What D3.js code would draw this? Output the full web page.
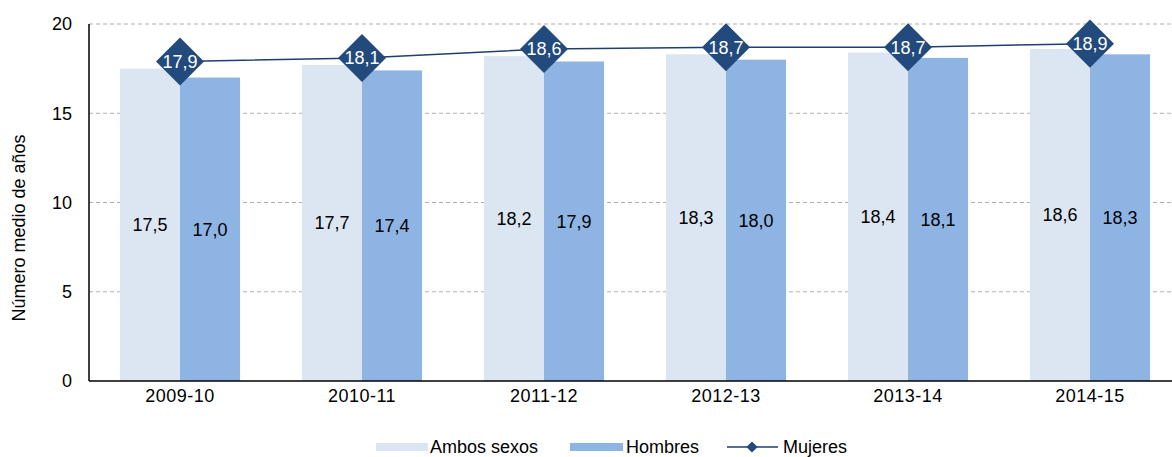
<!DOCTYPE html>
<html>
<head>
<meta charset="utf-8">
<script src="https://cdn.jsdelivr.net/npm/d3@7"></script>
<style>
  body { margin: 0; background: #fff; }
  text { font-family: "Liberation Sans", Arial, sans-serif; }
</style>
</head>
<body>
<div id="chart-area"></div>
<script>
const categories = ['2009-10', '2010-11', '2011-12', '2012-13', '2013-14', '2014-15'];
const ambos = [17.5, 17.7, 18.2, 18.3, 18.4, 18.6];
const hombres = [17.0, 17.4, 17.9, 18.0, 18.1, 18.3];
const mujeres = [17.9, 18.1, 18.6, 18.7, 18.7, 18.9];
const yTicks = [0, 5, 10, 15, 20];

const WIDTH = 1172, HEIGHT = 457;
const MARGINS = { top: 24, left: 89, bottom: 76 };
const PLOT_W = 1092;
const PLOT_H = HEIGHT - MARGINS.top - MARGINS.bottom;
const FONT = '18px';

const fmt = v => d3.format('.1f')(v).replace('.', ',');

const svg = d3.select('#chart-area').append('svg')
  .attr('width', WIDTH)
  .attr('height', HEIGHT);

const g = svg.append('g')
  .attr('transform', `translate(${MARGINS.left}, ${MARGINS.top})`);

// scales
const x = d3.scaleBand().domain(categories).range([0, PLOT_W]).paddingInner(0.34).paddingOuter(0.17);
const xSub = d3.scaleBand().domain(['ambos', 'hombres']).range([0, x.bandwidth()]);
const y = d3.scaleLinear().domain([0, 20]).range([PLOT_H, 0]);

// gridlines
g.selectAll('.grid').data(yTicks.filter(d => d > 0)).enter().append('line')
  .attr('x1', 0).attr('x2', PLOT_W)
  .attr('y1', d => y(d)).attr('y2', d => y(d))
  .attr('stroke', '#b0b0b0')
  .attr('stroke-dasharray', '4,3')
  .attr('stroke-width', 1);

// bars
const groups = g.selectAll('.grp').data(categories).enter().append('g')
  .attr('transform', d => `translate(${x(d)}, 0)`);

groups.append('rect')
  .attr('x', xSub('ambos'))
  .attr('width', xSub.bandwidth())
  .attr('y', (d, i) => y(ambos[i]))
  .attr('height', (d, i) => PLOT_H - y(ambos[i]))
  .attr('fill', '#dce6f2');

groups.append('rect')
  .attr('x', xSub('hombres'))
  .attr('width', xSub.bandwidth())
  .attr('y', (d, i) => y(hombres[i]))
  .attr('height', (d, i) => PLOT_H - y(hombres[i]))
  .attr('fill', '#8eb4e3');

groups.append('text')
  .attr('x', xSub('ambos') + xSub.bandwidth() / 2)
  .attr('y', (d, i) => y(ambos[i] / 2))
  .attr('dy', '0.35em')
  .attr('text-anchor', 'middle')
  .attr('font-size', FONT)
  .attr('fill', '#000')
  .text((d, i) => fmt(ambos[i]));

groups.append('text')
  .attr('x', xSub('hombres') + xSub.bandwidth() / 2)
  .attr('y', (d, i) => y(hombres[i] / 2))
  .attr('dy', '0.35em')
  .attr('text-anchor', 'middle')
  .attr('font-size', FONT)
  .attr('fill', '#000')
  .text((d, i) => fmt(hombres[i]));

// axes
const yAxis = g.append('g').call(d3.axisLeft(y).tickValues(yTicks).tickSize(0).tickPadding(17));
yAxis.select('.domain').remove();
yAxis.selectAll('text').attr('font-size', FONT).attr('fill', '#000')
  .style('font-family', '"Liberation Sans", Arial, sans-serif');

const xAxis = g.append('g').attr('transform', `translate(0, ${PLOT_H})`)
  .call(d3.axisBottom(x).tickSize(0).tickPadding(8));
xAxis.select('.domain').remove();
xAxis.selectAll('text').attr('font-size', FONT).attr('fill', '#000')
  .attr('letter-spacing', '0.5px')
  .style('font-family', '"Liberation Sans", Arial, sans-serif');

g.append('line').attr('x1', 0).attr('x2', 0).attr('y1', 0).attr('y2', PLOT_H)
  .attr('stroke', '#000').attr('stroke-width', 1.5);
g.append('line').attr('x1', 0).attr('x2', PLOT_W).attr('y1', PLOT_H).attr('y2', PLOT_H)
  .attr('stroke', '#000').attr('stroke-width', 1.5);

// mujeres line
const cx = c => x(c) + x.bandwidth() / 2;
const line = d3.line().x(d => cx(d[0])).y(d => y(d[1]));
g.append('path')
  .datum(categories.map((c, i) => [c, mujeres[i]]))
  .attr('d', line)
  .attr('fill', 'none')
  .attr('stroke', '#1f3f70')
  .attr('stroke-width', 1.5);

const diamonds = g.selectAll('.dia').data(categories).enter().append('g')
  .attr('transform', (d, i) => `translate(${cx(d)}, ${y(mujeres[i])})`);
diamonds.append('path')
  .attr('d', d3.symbol().type(d3.symbolDiamond2).size(1470))
  .attr('fill', '#234a7c');
diamonds.append('text')
  .attr('text-anchor', 'middle')
  .attr('dy', '0.36em')
  .attr('font-size', FONT)
  .attr('fill', '#fff')
  .text((d, i) => fmt(mujeres[i]));

// y label
svg.append('text')
  .attr('transform', 'translate(25, 228) rotate(-90)')
  .attr('text-anchor', 'middle')
  .attr('font-size', '18px')
  .attr('fill', '#000')
  .text('Número medio de años');

// legend
const legend = svg.append('g').attr('transform', 'translate(0, 447)');
legend.append('rect').attr('x', 376).attr('y', -4).attr('width', 52).attr('height', 8).attr('fill', '#dce6f2');
legend.append('text').attr('x', 430).attr('dy', '0.36em').attr('font-size', FONT).text('Ambos sexos');
legend.append('rect').attr('x', 570).attr('y', -4).attr('width', 53).attr('height', 8).attr('fill', '#8eb4e3');
legend.append('text').attr('x', 626).attr('dy', '0.36em').attr('font-size', FONT).text('Hombres');
legend.append('line').attr('x1', 727).attr('x2', 778).attr('y1', 0).attr('y2', 0)
  .attr('stroke', '#1f3f70').attr('stroke-width', 1.5);
legend.append('path').attr('transform', 'translate(752, 0)')
  .attr('d', d3.symbol().type(d3.symbolDiamond2).size(80))
  .attr('fill', '#234a7c');
legend.append('text').attr('x', 783).attr('dy', '0.36em').attr('font-size', FONT).text('Mujeres');
</script>
</body>
</html>
